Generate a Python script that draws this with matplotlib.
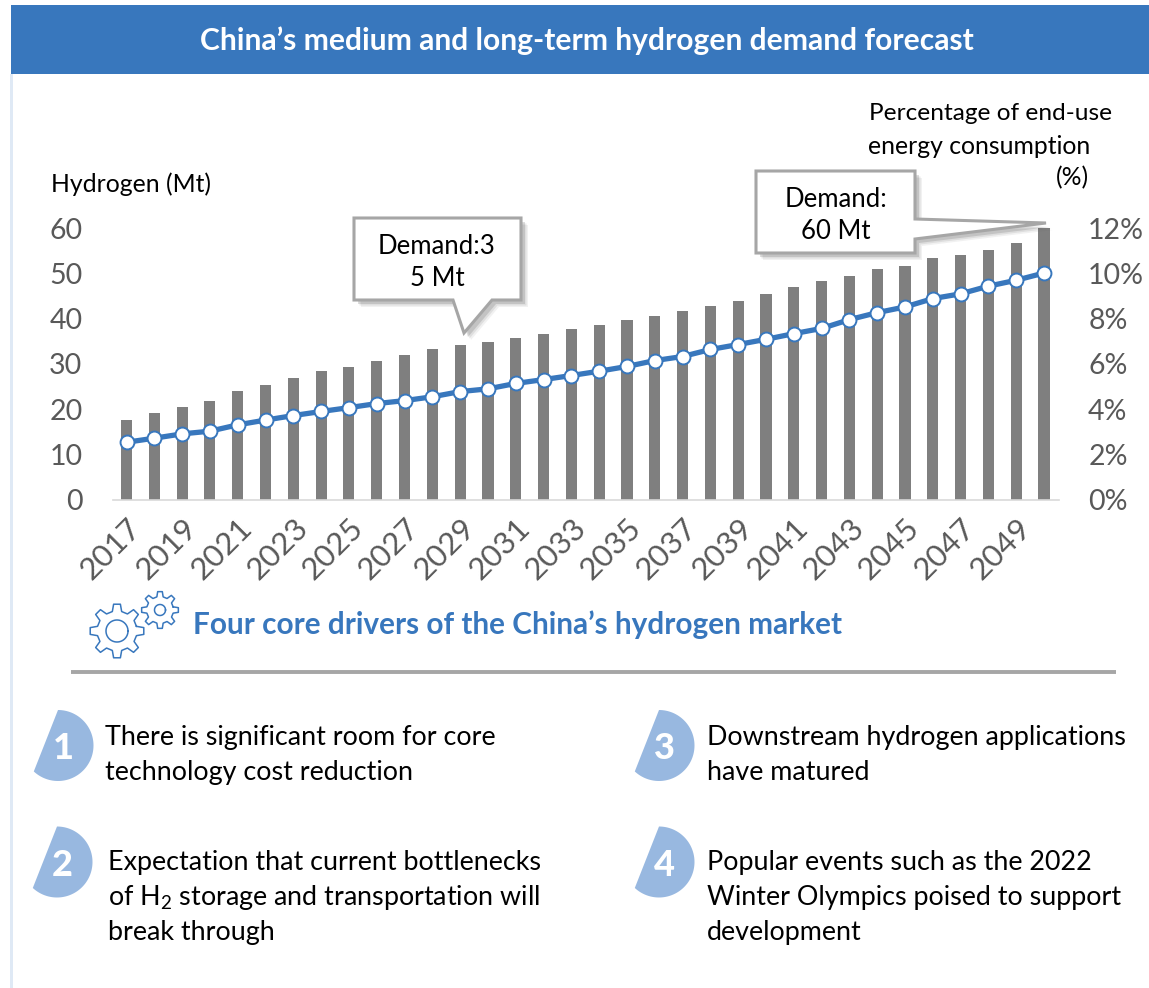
import numpy as np
import matplotlib
matplotlib.use('Agg')
import matplotlib.pyplot as plt
from matplotlib.patches import Polygon, Rectangle

plt.rcParams['font.family'] = ['Lato', 'DejaVu Sans']
plt.rcParams['mathtext.default'] = 'regular'

years = list(range(2017, 2051))
hydrogen = [17.5, 19.1, 20.5, 21.8, 23.9, 25.2, 26.9, 28.4, 29.3, 30.7, 32.0, 33.2,
            34.2, 34.8, 35.6, 36.6, 37.6, 38.5, 39.7, 40.5, 41.6, 42.8, 43.9, 45.4,
            47.0, 48.2, 49.3, 50.9, 51.7, 53.3, 54.1, 55.2, 56.6, 60.0]
share = [2.53, 2.71, 2.90, 3.02, 3.30, 3.51, 3.71, 3.89, 4.06, 4.24, 4.37, 4.54,
         4.77, 4.89, 5.13, 5.30, 5.48, 5.67, 5.88, 6.14, 6.32, 6.63, 6.85, 7.08,
         7.33, 7.56, 7.95, 8.26, 8.51, 8.88, 9.09, 9.43, 9.69, 10.01]
left_ticks = [0, 10, 20, 30, 40, 50, 60]
right_ticks = [0, 2, 4, 6, 8, 10, 12]

title = 'China\u2019s medium and long-term hydrogen demand forecast'
heading = 'Four core drivers of the China\u2019s hydrogen market'
drivers_1 = ['There is significant room for core', 'technology cost reduction']
drivers_2 = ['Expectation that current bottlenecks', 'of H$_2$ storage and transportation will', 'break through']
drivers_3 = ['Downstream hydrogen applications', 'have matured']
drivers_4 = ['Popular events such as the 2022', 'Winter Olympics poised to support', 'development']

BLUE = '#3877bd'
W, H = 1149, 988

fig = plt.figure(figsize=(W / 100, H / 100), dpi=100, facecolor='white')

# chart, placed in pixels
x0, x1, y0, y1 = 113, 1059, 499.5, 228
ax = fig.add_axes([x0 / W, 1 - y0 / H, (x1 - x0) / W, (y0 - y1) / H])
pos = np.arange(len(years))
ax.bar(pos, hydrogen, width=0.4, color='#7f7f7f')
ax.set_xlim(-0.486, 33.54)
ax.set_ylim(0, 60)
ax.set_yticks(left_ticks)
ax.set_xticks(pos[::2])
ax.set_xticklabels(years[::2], rotation=45, ha='right', rotation_mode='anchor')
ax.tick_params(axis='y', length=0, pad=22, labelsize=20.5, labelcolor='#595959')
ax.tick_params(axis='x', length=0, pad=10, labelsize=22.5, labelcolor='#595959')
for s in ['top', 'left', 'right']:
    ax.spines[s].set_visible(False)
ax.spines['bottom'].set_color('#d9d9d9')
ax.spines['bottom'].set_linewidth(1.2)

ax2 = ax.twinx()
ax2.plot(pos, share, color=BLUE, lw=3.8, marker='o', ms=10, mfc='white', mec=BLUE, mew=1.4, clip_on=False)
ax2.set_ylim(0, 12)
ax2.set_yticks(right_ticks)
ax2.set_yticklabels([f'{v}%' for v in right_ticks])
ax2.tick_params(axis='y', length=0, pad=21, labelsize=20.5, labelcolor='#595959')
for s in ax2.spines.values():
    s.set_visible(False)

# everything else is drawn on a pixel overlay
ov = fig.add_axes([0, 0, 1, 1], zorder=5)
ov.set_xlim(0, W)
ov.set_ylim(H, 0)
ov.axis('off')
ov.patch.set_alpha(0)

ov.add_patch(Rectangle((10, 74), 3, H - 74, color='#dfe9f5', lw=0))
ov.add_patch(Rectangle((11, 5), W - 11, 69, color=BLUE, lw=0))
ov.text(587, 41, title, color='white', fontsize=21.6, fontweight='bold', ha='center', va='center')


def callout(pts):
    pts = np.array(pts, dtype=float)
    for off, a in [(7, 0.08), (5.5, 0.12), (4, 0.2)]:
        ov.add_patch(Polygon(pts + [off, off], closed=True, fc='#595959', ec='none', alpha=a))
    ov.add_patch(Polygon(pts, closed=True, fc='white', ec='#a6a6a6', lw=2.2, joinstyle='miter'))


callout([(354, 218), (521, 218), (521, 300), (492, 300), (464, 333), (453, 300), (354, 300)])
ov.text(437, 246, 'Demand:3', fontsize=18.5, ha='center', va='center', color='black')
ov.text(437, 278, '5 Mt', fontsize=18.5, ha='center', va='center', color='black')

callout([(756, 171), (915, 171), (915, 219), (1046, 223), (915, 239), (915, 253), (756, 253)])
ov.text(836, 199, 'Demand:', fontsize=18.5, ha='center', va='center', color='black')
ov.text(836, 231, '60 Mt', fontsize=18.5, ha='center', va='center', color='black')

ov.text(51, 184, 'Hydrogen (Mt)', fontsize=17.8, va='center', color='black')
ov.text(869, 114, 'Percentage of end-use', fontsize=17.6, va='center', color='black')
ov.text(868, 146, 'energy consumption', fontsize=17.8, va='center', color='black')
ov.text(1089, 178, '(%)', fontsize=17.8, va='center', ha='right', color='black')


def gear(cx, cy, ro, ri, rh, teeth=8):
    a = []
    r = []
    step = 2 * np.pi / teeth
    for k in range(teeth):
        t = k * step
        a += [t - 0.30 * step, t - 0.16 * step, t + 0.16 * step, t + 0.30 * step]
        r += [ri, ro, ro, ri]
    a = np.array(a + a[:1])
    r = np.array(r + r[:1])
    ov.plot(cx + r * np.cos(a), cy + r * np.sin(a), color=BLUE, lw=1.1, solid_joinstyle='round')
    th = np.linspace(0, 2 * np.pi, 80)
    ov.plot(cx + rh * np.cos(th), cy + rh * np.sin(th), color=BLUE, lw=1.1)


gear(117, 631, 27, 20, 11)
gear(160, 610, 18.5, 13.5, 5.5)
ov.text(193, 625, heading, color=BLUE, fontsize=21.4, fontweight='bold', va='center')
ov.plot([71, 1116], [672, 672], color='#a6a6a6', lw=2.8, solid_capstyle='butt')


def badge(cx, cy, label, r=35.5):
    th = np.radians(np.linspace(-133, 90, 80))
    pts = np.column_stack([cx + r * np.cos(th), cy - r * np.sin(th)])
    ov.add_patch(Polygon(pts, closed=True, fc='#98b8e0', ec='none'))
    ov.text(cx + 5, cy + 3, label, color='white', fontsize=26, fontweight='black', ha='center', va='center')


badge(58, 745.5, '1')
badge(57, 862, '2')
badge(659, 745.5, '3')
badge(659, 862, '4')


def block(x, y, lines):
    for i, line in enumerate(lines):
        ov.text(x, y + i * 35, line, fontsize=19.4, va='center', color='black')


block(105, 737, drivers_1)
block(108, 862, drivers_2)
block(707, 737, drivers_3)
block(707, 862, drivers_4)

fig.savefig('out.png', dpi=100)
